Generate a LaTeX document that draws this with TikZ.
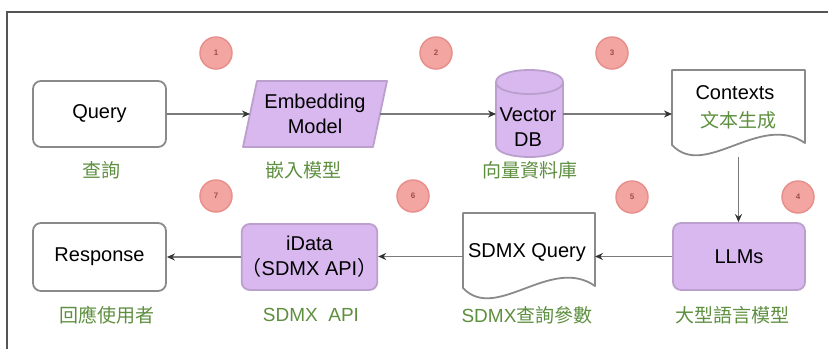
\documentclass[tikz,border=0pt]{standalone}
\usepackage{fontspec}
\setmainfont{Liberation Sans}
\newfontfamily\cjk{Noto Sans CJK TC}
\usetikzlibrary{arrows.meta}
\definecolor{lav}{HTML}{D9B8EF}
\definecolor{lavline}{HTML}{BBA0CE}
\definecolor{boxline}{HTML}{8A8A8A}
\definecolor{lblgreen}{HTML}{5E8F3F}
\definecolor{circfill}{HTML}{F3A5A2}
\definecolor{circline}{HTML}{E8908C}
\definecolor{circtext}{HTML}{A24E4A}
\definecolor{arrowc}{HTML}{7A7A7A}
\definecolor{framec}{HTML}{555555}
\begin{document}
\begin{tikzpicture}[x=1pt,y=-1pt,
  box/.style={draw=boxline, line width=1.8pt, rounded corners=8pt, fill=white,
    minimum width=133pt, minimum height=66pt, inner sep=0pt,
    font=\fontsize{20}{25}\selectfont, align=center},
  pbox/.style={box, draw=lavline, fill=lav},
  ghost/.style={inner sep=0pt, outer sep=0pt, font=\fontsize{20}{25}\selectfont, align=center},
  shapeline/.style={draw=boxline, line width=1.8pt, fill=white, line join=round},
  pshapeline/.style={draw=lavline, line width=1.8pt, fill=lav, line join=round},
  lbl/.style={text=lblgreen, font=\fontsize{19}{22}\selectfont\cjk, inner sep=0pt},
  num/.style={circle, draw=circline, fill=circfill, line width=1.5pt,
    minimum size=32pt, inner sep=0pt, text=circtext, font=\fontsize{8}{8}\selectfont\bfseries},
  conn/.style={draw=arrowc, line width=1.5pt, -{Stealth[length=8pt,width=7pt,color=black!80]}},
  txt/.style={inner sep=0pt, font=\fontsize{20}{25}\selectfont, align=center}
]
\useasboundingbox (0,0) rectangle (828,349);
\fill[white] (0,0) rectangle (828,349);
\draw[framec, line width=1.5pt] (828,12) -- (7,12) -- (7,349);

% row 1
\node[box] (q) at (99.5,114) {Query};

\draw[pshapeline] (257,81) -- (387,81) -- (373,147) -- (243,147) -- cycle;
\node[ghost, minimum width=130pt, minimum height=66pt] (emb) at (315,114) {Embedding\\Model};

\draw[pshapeline] (496,82) -- (496,145) .. controls (496,161) and (563,161) .. (563,145)
  -- (563,82) .. controls (563,66) and (496,66) .. (496,82) -- cycle;
\draw[draw=lavline, line width=1.8pt] (496,82) .. controls (496,98) and (563,98) .. (563,82);
\node[ghost, minimum width=67pt, minimum height=87pt] (vdb) at (529.5,114) {};
\node[txt] (vdbt) at (528,127) {Vector\\DB};

\draw[shapeline] (672,70) -- (805,70) -- (805,143)
  .. controls (760,112) and (705,180) .. (672,145) -- cycle;
\node[ghost, minimum width=133pt, minimum height=87pt] (ctx) at (738.5,113.5) {};
\node[txt] (ctxt) at (735,93) {Contexts};
\node[lbl] (ctxl) at (738,120) {文本生成};

% row 2
\node[pbox, minimum width=132pt, minimum height=67pt] (llm) at (739,256.5) {LLMs};

\draw[shapeline] (463,213) -- (595,213) -- (595,286)
  .. controls (551,255) and (496,323) .. (463,288) -- cycle;
\node[ghost, minimum width=132pt, minimum height=87pt] (sq) at (529,256.5) {};
\node[txt] (sqt) at (527,253) {SDMX Query};

\node[pbox, minimum height=66pt] (api) at (309.5,257) {iData\\{\cjk （}SDMX API{\cjk ）}};
\node[box, minimum height=68pt] (resp) at (99.5,257) {Response};

% labels
\node[lbl] (l1) at (101,170) {查詢};
\node[lbl] (l2) at (303,170) {嵌入模型};
\node[lbl] (l3) at (530,170) {向量資料庫};
\node[lbl] (l7) at (107,315) {回應使用者};
\node[lbl] (l6) at (311,315) {\fontspec{Liberation Sans}SDMX\ \ API};
\node[lbl] (l5) at (527,315) {{\fontspec{Liberation Sans}SDMX}查詢參數};
\node[lbl] (l4) at (732,315) {大型語言模型};

% step numbers
\node[num] (n1) at (216,53) {1};
\node[num] (n2) at (436,53) {2};
\node[num] (n3) at (612,53) {3};
\node[num] (n4) at (798,197) {4};
\node[num] (n5) at (632,197) {5};
\node[num] (n6) at (413,196) {6};
\node[num] (n7) at (216,196) {7};

% connectors
\draw[conn] (q.east) -- (q.east -| emb.west);
\draw[conn] (emb.east) -- (emb.east -| vdb.west);
\draw[conn] (vdb.east) -- (vdb.east -| ctx.west);
\draw[conn] (ctx.south) -- (ctx.south |- llm.north);
\draw[conn] (llm.west) -- (llm.west -| sq.east);
\draw[conn] (sq.west) -- (sq.west -| api.east);
\draw[conn] (api.west) -- (api.west -| resp.east);
\end{tikzpicture}
\end{document}
